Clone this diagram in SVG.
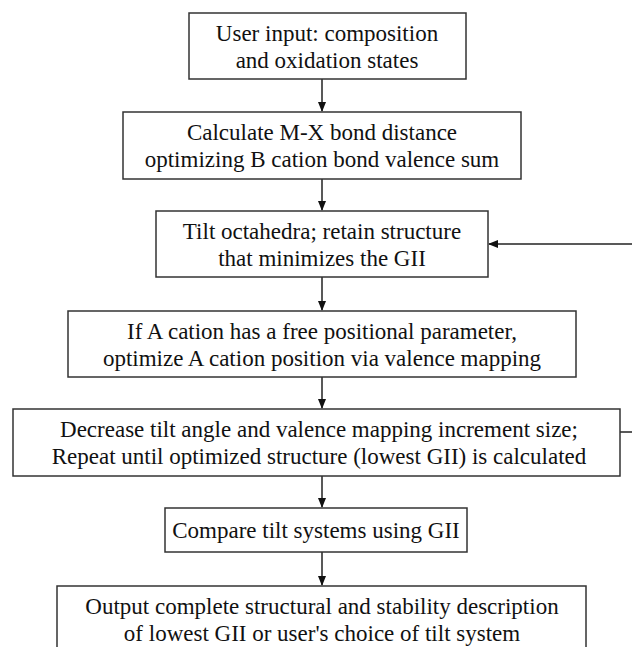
<svg xmlns="http://www.w3.org/2000/svg" width="632" height="647" viewBox="0 0 632 647">
<style>
.box{fill:#fff;stroke:#333;stroke-width:1.5}
.t{font-size:23px;fill:#111;text-anchor:middle}
.c{stroke:#222;stroke-width:1.5;fill:none}
</style>
<defs>
<marker id="ah" markerWidth="10" markerHeight="10" refX="9" refY="5" orient="auto" markerUnits="userSpaceOnUse">
<path d="M0,1 L10,5 L0,9 Z" fill="#111"/>
</marker>
</defs>
<rect width="632" height="647" fill="#fff"/>
<g id="connectors">
<line class="c" x1="322" y1="79" x2="322" y2="111" marker-end="url(#ah)"/>
<line class="c" x1="322" y1="179" x2="322" y2="210" marker-end="url(#ah)"/>
<line class="c" x1="322" y1="277" x2="322" y2="310" marker-end="url(#ah)"/>
<line class="c" x1="322" y1="377" x2="322" y2="408" marker-end="url(#ah)"/>
<line class="c" x1="322" y1="476" x2="322" y2="507" marker-end="url(#ah)"/>
<line class="c" x1="322" y1="552" x2="322" y2="585" marker-end="url(#ah)"/>
<line class="c" x1="620" y1="432" x2="632" y2="432"/>
<line class="c" x1="632" y1="244" x2="489" y2="244" marker-end="url(#ah)"/>
</g>
<g font-family="Liberation Serif, Tinos, Times New Roman, Times, serif">
<g id="n1">
<rect class="box" x="189" y="13" width="277" height="66"/>
<text class="t" x="327" y="41">User input: composition</text>
<text class="t" x="327" y="68">and oxidation states</text>
</g>
<g id="n2">
<rect class="box" x="123" y="112" width="398" height="67"/>
<text class="t" x="322" y="140">Calculate M-X bond distance</text>
<text class="t" x="322" y="167">optimizing B cation bond valence sum</text>
</g>
<g id="n3">
<rect class="box" x="156" y="211" width="332" height="66"/>
<text class="t" x="322" y="239">Tilt octahedra; retain structure</text>
<text class="t" x="322" y="266">that minimizes the GII</text>
</g>
<g id="n4">
<rect class="box" x="68" y="311" width="508" height="66"/>
<text class="t" x="322" y="339">If A cation has a free positional parameter,</text>
<text class="t" x="322" y="366">optimize A cation position via valence mapping</text>
</g>
<g id="n5">
<rect class="box" x="13" y="409" width="607" height="67"/>
<text class="t" x="319" y="437">Decrease tilt angle and valence mapping increment size;</text>
<text class="t" x="319" y="464">Repeat until optimized structure (lowest GII) is calculated</text>
</g>
<g id="n6">
<rect class="box" x="165" y="508" width="302" height="44"/>
<text class="t" x="316" y="538">Compare tilt systems using GII</text>
</g>
<g id="n7">
<rect class="box" x="57" y="586" width="529" height="70"/>
<text class="t" x="322" y="614">Output complete structural and stability description</text>
<text class="t" x="322" y="641">of lowest GII or user's choice of tilt system</text>
</g>
</g>
</svg>
